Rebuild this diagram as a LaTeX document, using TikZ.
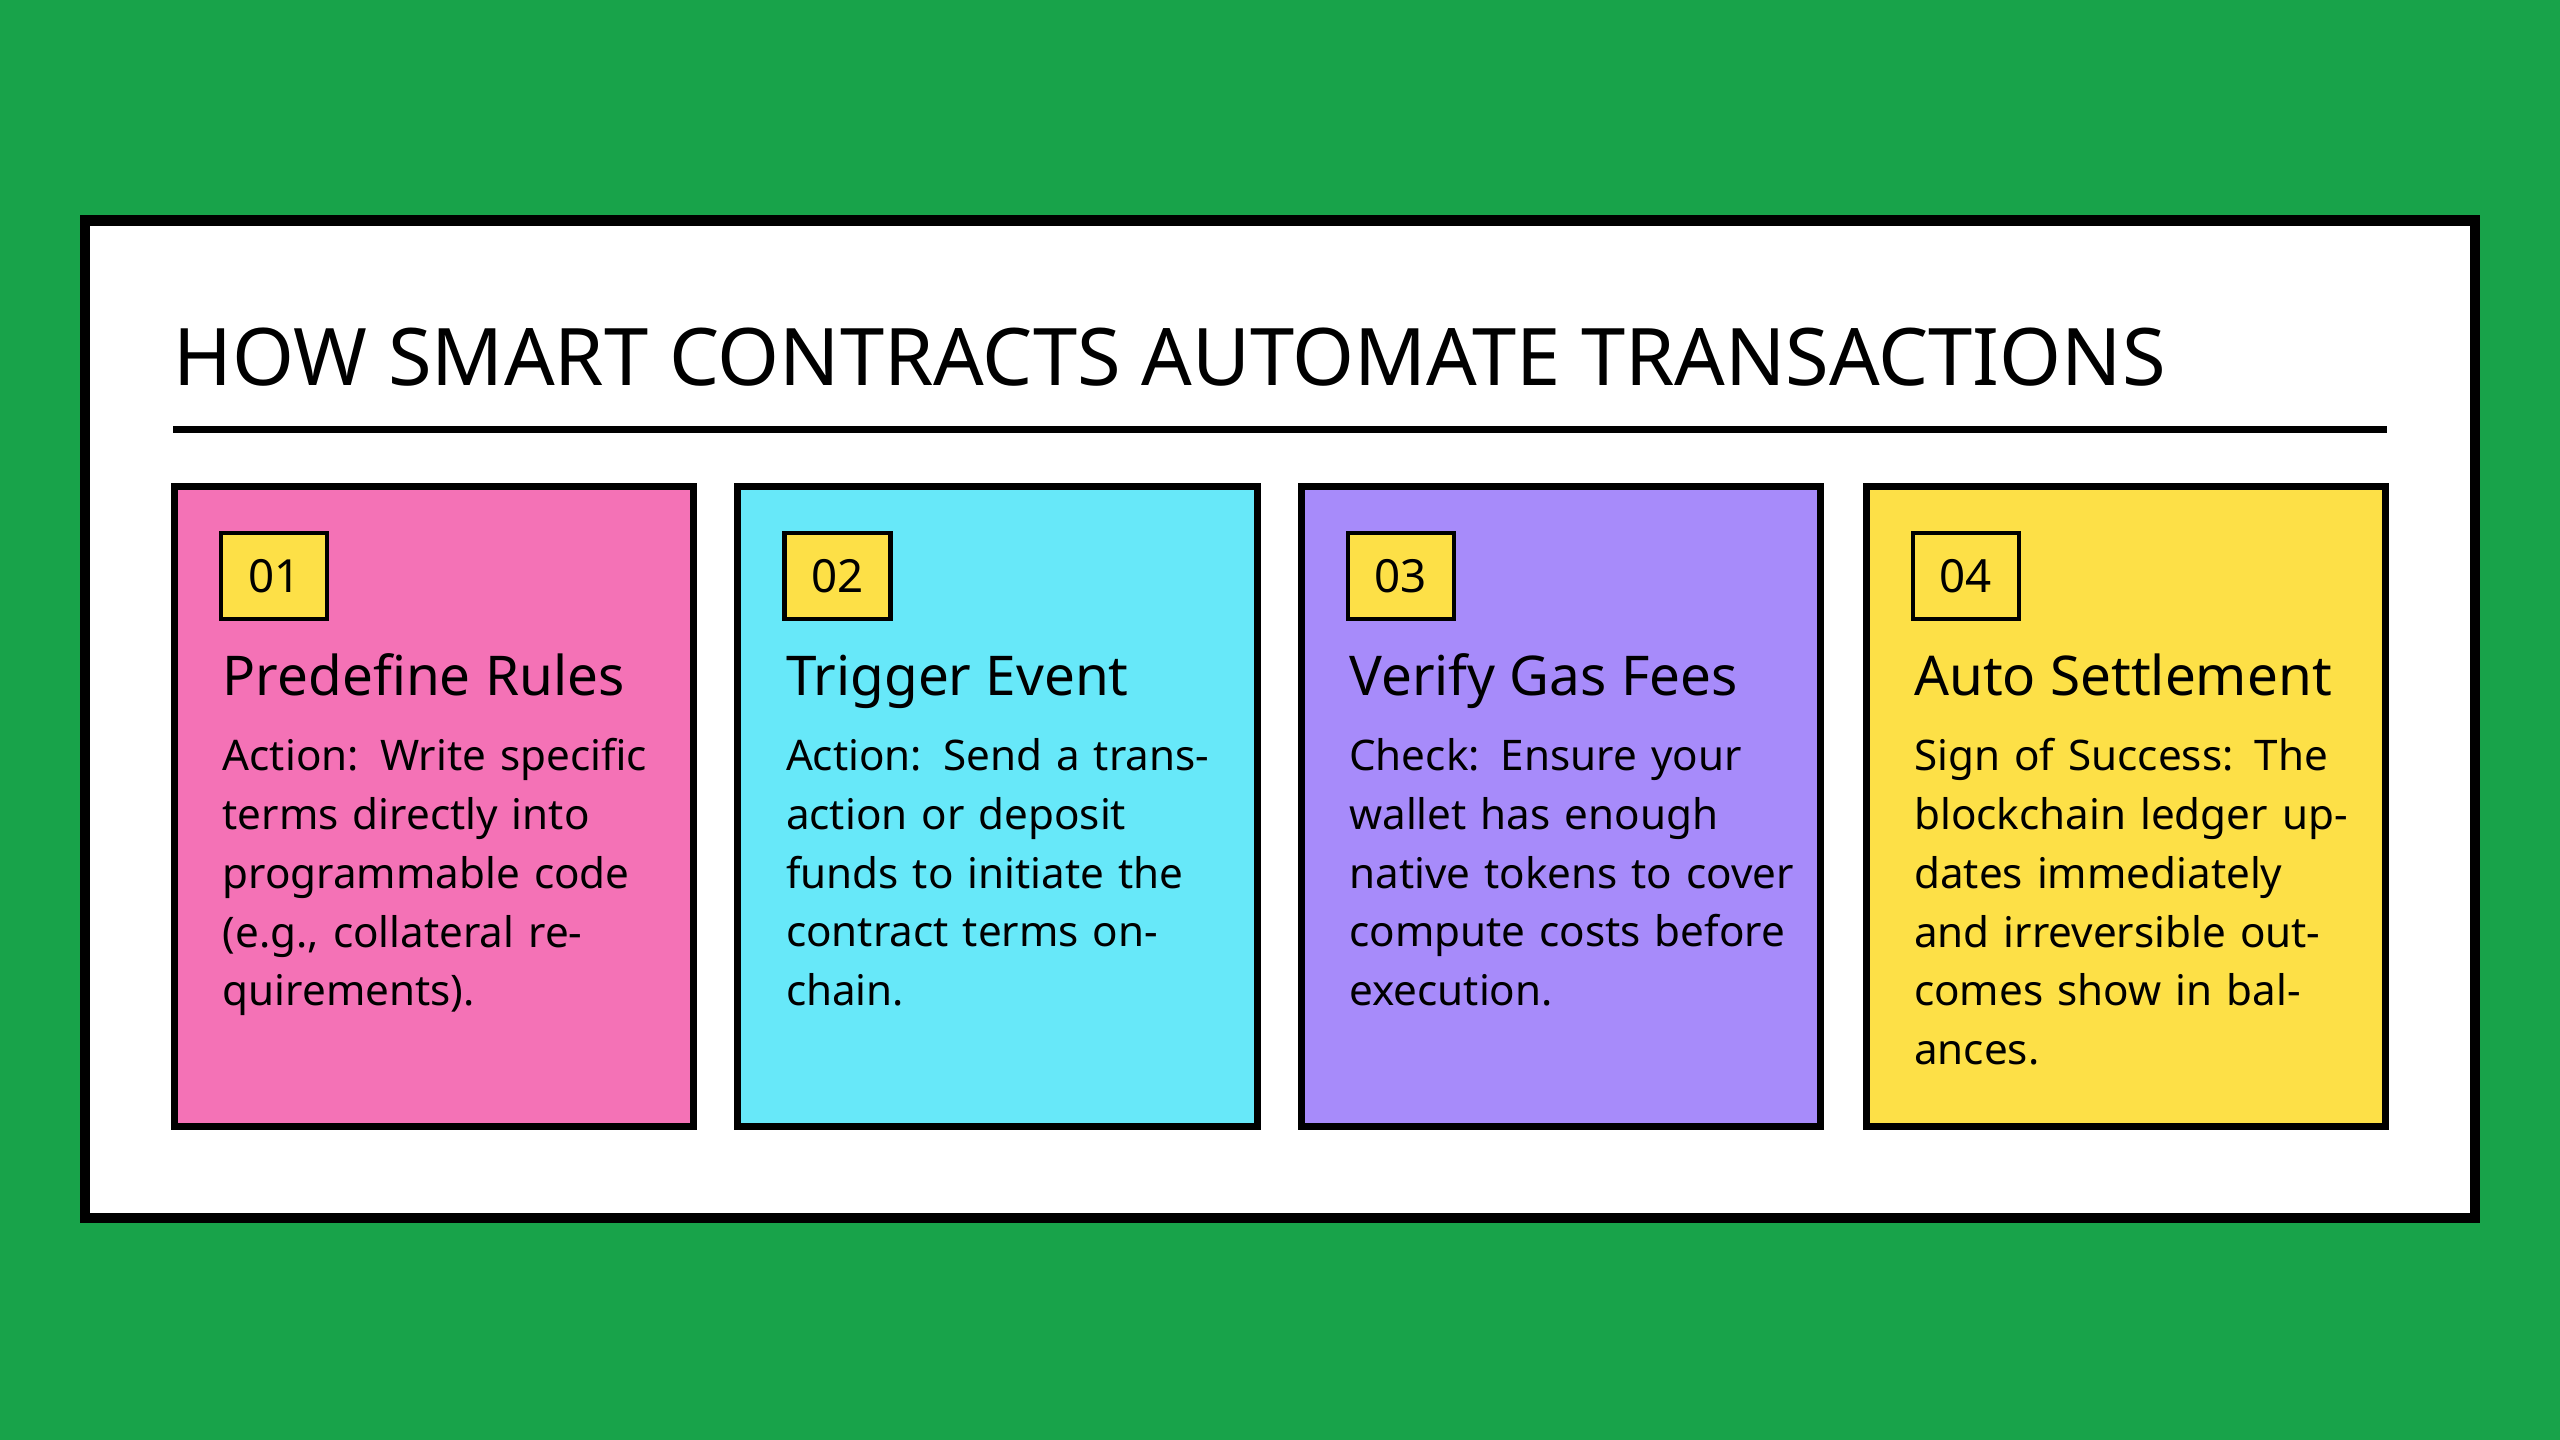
\documentclass[tikz,border=0pt]{standalone}
\usepackage{fontspec}
\setmainfont{Noto Sans}
\definecolor{bggreen}{HTML}{18A34A}
\definecolor{cpink}{HTML}{F472B6}
\definecolor{ccyan}{HTML}{67E8F9}
\definecolor{cpurple}{HTML}{A78BFA}
\definecolor{cyellow}{HTML}{FDE047}
\tikzset{
  cardbox/.style={draw=black,line width=2pt},
  numbox/.style={draw=black,line width=1.2pt,fill=cyellow,minimum width=1.06cm,minimum height=0.86cm,inner sep=0pt,font=\fontsize{13}{15}\selectfont\bfseries},
  cardhead/.style={anchor=base west,inner sep=0pt,font=\fontsize{15.6}{18}\selectfont\bfseries},
  cardtext/.style={anchor=north west,inner sep=0pt,text width=4.5cm,align=left,font=\fontsize{12}{16.7}\selectfont}
}
\begin{document}
\begin{tikzpicture}[x=0.016327cm,y=-0.016327cm]
  \fill[bggreen] (0,0) rectangle (1568,882);
  \useasboundingbox (0,0) rectangle (1568,882);
  \draw[fill=white,line width=3pt] (52,135) rectangle (1516,746);
  % titel
  \node[anchor=base west,inner sep=0pt,font=\fontsize{22.6}{26}\selectfont\bfseries] (title) at (106,236) {HOW SMART CONTRACTS AUTOMATE TRANSACTIONS};
  \draw[line width=2pt] (106,263) coordinate (r1) -- (1462,263) coordinate (r2);
  % kaarten
  \foreach \x/\c/\n/\h/\t [count=\i] in {
    107/cpink/01/Predefine Rules/{\textbf{Action:} Write specific terms directly into programmable code (e.g., collateral requirements).},
    452/ccyan/02/Trigger Event/{\textbf{Action:} Send a transaction or deposit funds to initiate the contract terms on-chain.},
    797/cpurple/03/Verify Gas Fees/{\textbf{Check:} Ensure your wallet has enough native tokens to cover compute costs before execution.},
    1143/cyellow/04/Auto Settlement/{\textbf{Sign of Success:} The blockchain ledger updates immediately and irreversible outcomes show in balances.}}{
      \draw[cardbox,fill=\c] (\x,298) rectangle ++(318,392);
      \node[numbox] (num\i) at ({\x+61},353) {\n};
      \node[cardhead] (head\i) at ({\x+29},426) {\h};
      \node[cardtext] (text\i) at ({\x+29},452) {\t};
  }
\end{tikzpicture}
\end{document}
